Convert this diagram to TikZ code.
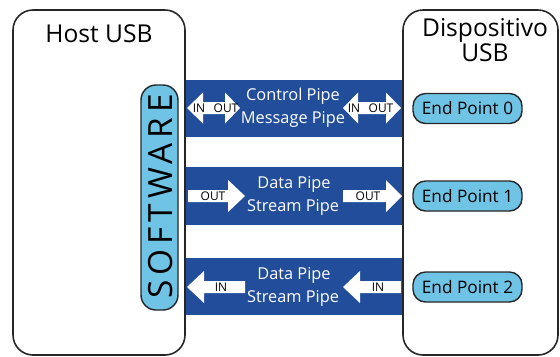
\documentclass[tikz,border=0pt]{standalone}
\usepackage{fontspec}
\setmainfont{Open Sans}
\usepackage{xcolor}
\usepackage{tikz}
\usetikzlibrary{positioning}

\definecolor{pipeblue}{RGB}{33,77,155}
\definecolor{softblue}{RGB}{111,196,230}

\begin{document}
\begin{tikzpicture}[x=0.02cm, y=-0.02cm,
  box/.style={draw=black!85, line width=0.9pt, rounded corners=0.4cm},
  pipe/.style={fill=pipeblue},
  flow/.style={fill=white},
  tag/.style={font=\fontsize{6.8}{7}\selectfont, inner sep=0pt},
  pipetext/.style={text=white, font=\fontsize{9.3}{10}\selectfont, inner sep=0pt},
  endpoint/.style={draw=black!85, line width=0.8pt, fill=softblue, rounded corners=0.25cm,
    minimum width=2.18cm, minimum height=0.6cm, font=\fontsize{9.8}{10}\selectfont}]
  \useasboundingbox (0,0) rectangle (560,356);

  % Pipes
  \fill[pipe] (185,80) rectangle (403,137);
  \fill[pipe] (185,167) rectangle (403,225);
  \fill[pipe] (185,258) rectangle (403,315);

  % Host and device
  \draw[box] (13,10) rectangle (185,355);
  \draw[box] (403,10) rectangle (558,355);
  \node[font=\fontsize{14}{14}\selectfont] (host) at (99,34) {Host USB};
  \node[align=center, font=\fontsize{14}{12.5}\selectfont] (device) at (485,40) {Dispositivo\\USB};

  % Software
  \draw[black!85, line width=0.8pt, fill=softblue, rounded corners=0.3cm] (141,85) rectangle (178,310);
  \node[rotate=90, font=\fontsize{19}{19}\selectfont\addfontfeature{LetterSpace=15}] (software) at (161,196.5) {SOFTWARE};

  % Control pipe (both ways)
  \fill[flow] (187,108) -- (203,92.5) -- (203,102) -- (225,102) -- (225,92.5) -- (240,108)
    -- (225,123.5) -- (225,114) -- (203,114) -- (203,123.5) -- cycle;
  \node[tag] (in0a) at (199,108) {IN};
  \node[tag] (out0a) at (226,108) {OUT};
  \fill[flow] (343,108) -- (358,92.5) -- (358,102) -- (386,102) -- (386,92.5) -- (401,108)
    -- (386,123.5) -- (386,114) -- (358,114) -- (358,123.5) -- cycle;
  \node[tag] (in0b) at (354,108) {IN};
  \node[tag] (out0b) at (381,108) {OUT};
  \node[pipetext] (ctrlpipe) at (293,96) {Control Pipe};
  \node[pipetext] (msgpipe) at (293,119) {Message Pipe};

  % Data pipe out
  \fill[flow] (188,190) -- (228,190) -- (228,180) -- (245,196) -- (228,212) -- (228,202) -- (188,202) -- cycle;
  \node[tag] (out1a) at (213,196) {OUT};
  \fill[flow] (343,190) -- (386,190) -- (386,180) -- (402,196) -- (386,212) -- (386,202) -- (343,202) -- cycle;
  \node[tag] (out1b) at (368,196) {OUT};
  \node[pipetext] (datapipe1) at (294,184) {Data Pipe};
  \node[pipetext] (streampipe1) at (293,207) {Stream Pipe};

  % Data pipe in
  \fill[flow] (187,287) -- (204,271) -- (204,281) -- (245,281) -- (245,293) -- (204,293) -- (204,303) -- cycle;
  \node[tag] (in2a) at (221,287) {IN};
  \fill[flow] (343,287) -- (360,271) -- (360,281) -- (401,281) -- (401,293) -- (360,293) -- (360,303) -- cycle;
  \node[tag] (in2b) at (378,287) {IN};
  \node[pipetext] (datapipe2) at (294,275) {Data Pipe};
  \node[pipetext] (streampipe2) at (293,298) {Stream Pipe};

  % End points
  \node[endpoint] (ep0) at (467.5,108.5) {End Point 0};
  \node[endpoint] (ep1) at (467.5,196) {End Point 1};
  \node[endpoint] (ep2) at (467.5,287) {End Point 2};
\end{tikzpicture}
\end{document}
